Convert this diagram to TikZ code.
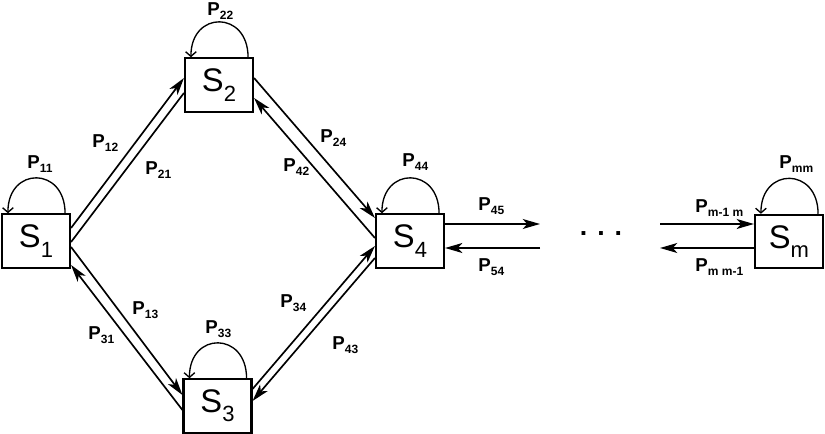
\documentclass[tikz,border=0pt]{standalone}
\usepackage{fontspec}
\setmainfont{Liberation Sans}
\usetikzlibrary{arrows.meta}
\newcommand{\Psub}[1]{P\kern0.2pt\raisebox{-2.5pt}{\fontsize{9}{9}\selectfont #1}}
\newcommand{\Ssub}[1]{S\raisebox{-7pt}{\fontsize{16.5}{17}\selectfont #1}}

\begin{document}
\begin{tikzpicture}[
		x=0.75pt, y=-0.75pt,
		stbox/.style={ draw, line width=1.6pt, minimum width=51pt, minimum height=40pt, inner sep=0pt, font=\fontsize{24.5}{25}\selectfont, },
		tr/.style={ line width=1.25pt, -{Stealth[length=13pt,width=7.5pt,inset=3.5pt]}, },
		bare/.style={ line width=1.25pt, },
		prob/.style={ font=\fontsize{14}{15}\selectfont\bfseries, anchor=base west, inner sep=0pt, },
		pics/selfloop/.style={
			code={%
				\draw[line width=1pt,-{Straight Barb[length=3.5pt,width=8pt]}]([shift={(-6,0)}]#1.north east) .. controls +(0,-47) and +(0,-47) .. ([shift={(7,0)}]#1.north west);
			}
		},
		]
		
		\useasboundingbox (0,0) rectangle (825,434);
		
		\node[stbox](s1) at (36,241){\Ssub{1}};
		\node[stbox](s2) at (219,85){\Ssub{2}};
		\node[stbox](s3) at (217.5,406){\Ssub{3}};
		\node[stbox](s4) at (410,241){\Ssub{4}};
		\node[stbox](sm) at (789,241.5){\Ssub{m}};
		
		\pic{selfloop=s1};
		\pic{selfloop=s2};
		\pic{selfloop=s3};
		\pic{selfloop=s4};
		\pic{selfloop=sm};
		
		\draw[tr]([shift={(0,-13)}]s1.east) -- ([shift={(0,-7)}]s2.west);
		\draw[bare]([shift={(0,8)}]s2.west) -- ([shift={(0,1)}]s1.east);
		\draw[tr]([shift={(0,6)}]s1.east) -- ([shift={(0,-11)}]s3.west);
		\draw[tr]([shift={(0,4)}]s3.west) -- ([shift={(0,24)}]s1.east);
		\draw[tr]([shift={(0,-7)}]s2.east) -- ([shift={(0,-23)}]s4.west);
		\draw[tr]([shift={(0,-3)}]s4.west) -- ([shift={(0,13)}]s2.east);
		\draw[tr]([shift={(0,-17)}]s3.east) -- ([shift={(0,5)}]s4.west);
		\draw[tr]([shift={(0,17)}]s4.west) -- ([shift={(0,-5)}]s3.east);
		
		\coordinate(c45) at (540,224);
		\coordinate(c54) at (540,248);
		\coordinate(cm1) at (660,224);
		\coordinate(cm2) at (660,248);
		\draw[tr]([shift={(0,-17)}]s4.east) -- (c45);
		\draw[tr](c54) -- ([shift={(0,7)}]s4.east);
		\draw[tr](cm1) -- ([shift={(0,-17.5)}]sm.west);
		\draw[tr]([shift={(0,6.5)}]sm.west) -- (cm2);
		
		\node[font=\fontsize{20}{20}\selectfont\bfseries,anchor=base](dots) at (601,236){.\hspace{7.5pt}.\hspace{7.5pt}.};
		
		\node[prob](p11) at (27,169){\Psub{11}};
		\node[prob](p22) at (207,16){\Psub{22}};
		\node[prob](p33) at (205,334){\Psub{33}};
		\node[prob](p44) at (402,167){\Psub{44}};
		\node[prob](pmm) at (779,169){\Psub{mm}};
		\node[prob](p12) at (92,148){\Psub{12}};
		\node[prob](p21) at (145,175){\Psub{21}};
		\node[prob](p13) at (132,315){\Psub{13}};
		\node[prob](p31) at (88,340){\Psub{31}};
		\node[prob](p24) at (320,143){\Psub{24}};
		\node[prob](p42) at (283,172){\Psub{42}};
		\node[prob](p34) at (280,308){\Psub{34}};
		\node[prob](p43) at (332,350){\Psub{43}};
		\node[prob](p45) at (478,211){\Psub{45}};
		\node[prob](p54) at (478,272){\Psub{54}};
		\node[prob](pm1) at (695,213){\Psub{m-1 m}};
		\node[prob](pm2) at (695,272){\Psub{m m-1}};
	\end{tikzpicture}
\end{document}
